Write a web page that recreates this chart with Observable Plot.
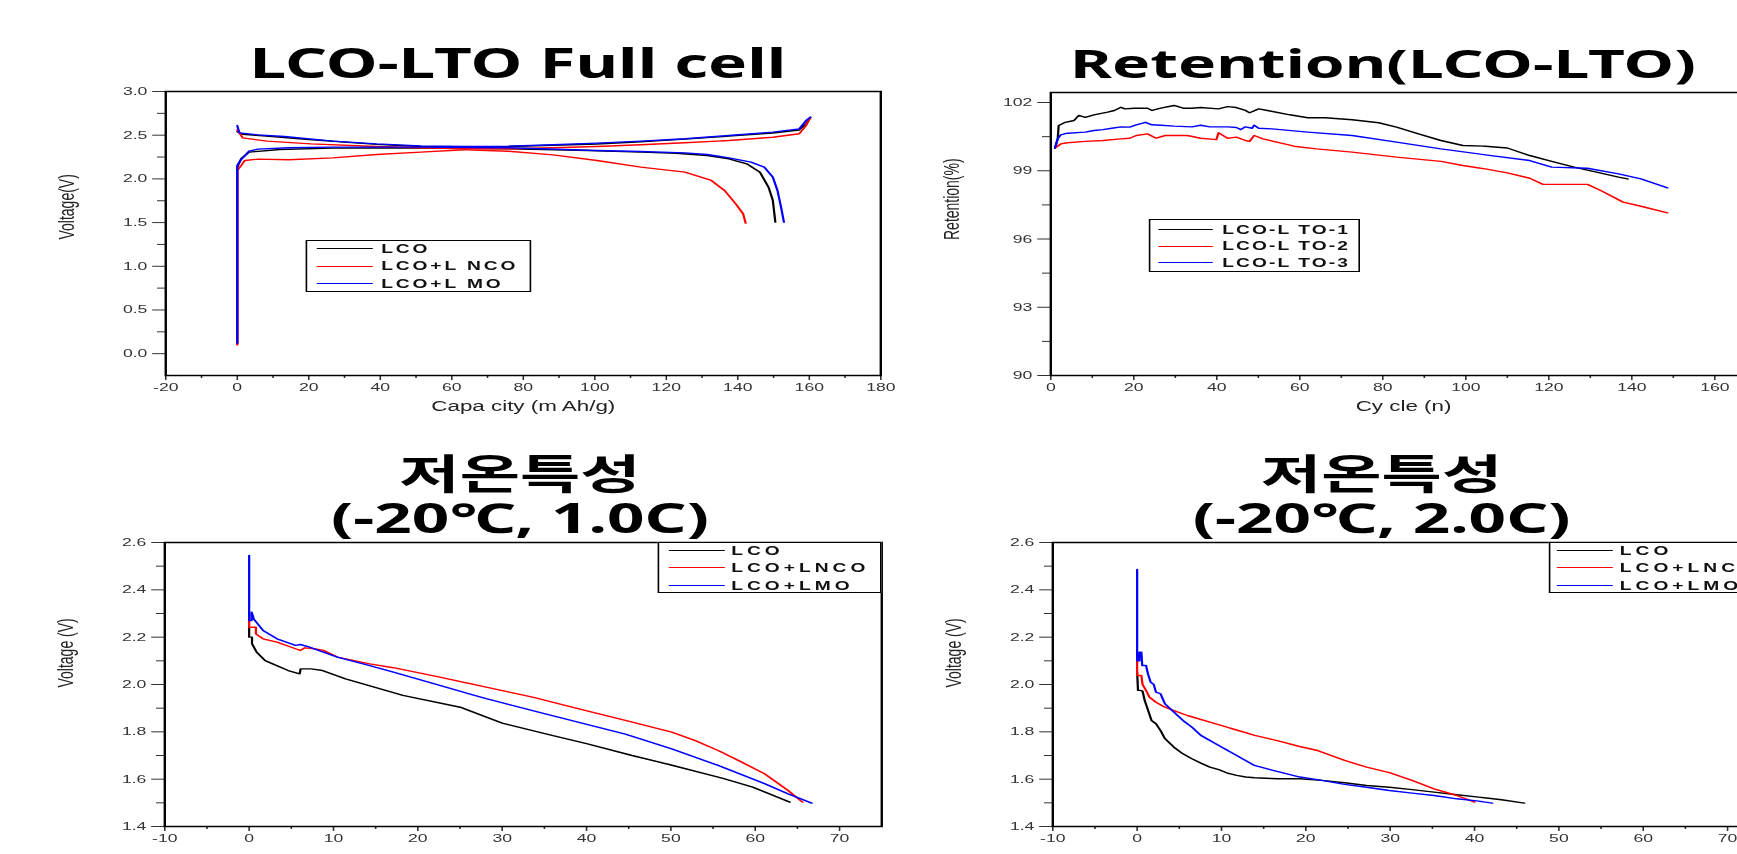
<!DOCTYPE html>
<html><head><meta charset="utf-8">
<script src="https://cdn.jsdelivr.net/npm/d3@7"></script>
<script src="https://cdn.jsdelivr.net/npm/@observablehq/plot@0.6"></script>
<style>
html,body{margin:0;padding:0;background:#fff;}
body{width:1737px;height:854px;overflow:hidden;position:relative;}
#wrap{position:absolute;left:0;top:0;width:1085.625px;height:854px;transform:scaleX(1.6);transform-origin:0 0;}
.title{position:absolute;font-family:"Noto Sans","Noto Sans CJK KR",sans-serif;font-weight:700;font-size:41px;line-height:44px;text-align:center;white-space:pre;color:#000;width:700px;}
.plotbox{position:absolute;}
.legend{position:absolute;box-sizing:border-box;border:1.5px solid #000;background:#fff;}
.sw{position:absolute;height:0;border-top:1.4px solid;}
.lt{position:absolute;font-family:"Liberation Sans",Arial,sans-serif;font-weight:700;font-size:12px;line-height:12px;white-space:pre;color:#111;}
</style></head>
<body><div id="wrap"></div>
<script>
// ---------- DATA ----------
// Panel 1: LCO-LTO Full cell (capacity mAh/g, voltage V)
const fcLcoUp   = [[0,2.54],[1.5,2.51],[8,2.49],[20,2.45],[39,2.395],[51.3,2.37],[63.6,2.365],[75.9,2.37],[88.3,2.385],[100.6,2.40],[112.9,2.425],[125.2,2.455],[137.5,2.49],[149.8,2.525],[157.2,2.56],[159.1,2.63],[160.3,2.70]];
const fcLcoLow  = [[0,0.12],[0,2.134],[1.1,2.23],[3.3,2.306],[11.9,2.336],[26.7,2.352],[51.3,2.356],[75.9,2.344],[98.1,2.325],[112.9,2.306],[122.8,2.294],[131.4,2.268],[137.5,2.23],[142.5,2.172],[146.2,2.077],[148.6,1.905],[149.8,1.753],[150.5,1.505]];
const fcLncoUp  = [[0,2.562],[1.5,2.47],[8.3,2.432],[20.6,2.401],[39,2.371],[51.3,2.356],[63.6,2.344],[75.9,2.344],[88.3,2.356],[100.6,2.371],[112.9,2.39],[125.2,2.413],[137.5,2.439],[149.8,2.477],[157.2,2.516],[159.1,2.611],[160.3,2.706]];
const fcLncoLow = [[0,0.10],[0,2.096],[1.1,2.153],[2.1,2.211],[5.8,2.226],[14.4,2.219],[26.7,2.241],[39,2.279],[51.3,2.306],[63.6,2.333],[75.9,2.317],[88.3,2.275],[100.6,2.211],[112.9,2.134],[125.2,2.077],[132.6,1.982],[136.3,1.867],[139.4,1.715],[141.5,1.6],[142.2,1.494]];
const fcLmoUp   = [[0,2.61],[0.6,2.527],[5.8,2.504],[13.2,2.485],[26.7,2.432],[39,2.401],[51.3,2.378],[63.6,2.371],[75.9,2.375],[88.3,2.39],[100.6,2.409],[112.9,2.432],[125.2,2.459],[137.5,2.497],[149.8,2.535],[157.2,2.573],[159.1,2.668],[160.3,2.706]];
const fcLmoLow  = [[0,0.12],[0,2.153],[0.87,2.211],[3.3,2.317],[5.8,2.34],[14.4,2.356],[26.7,2.363],[51.3,2.363],[75.9,2.356],[100.6,2.325],[112.9,2.314],[125.2,2.298],[131.4,2.279],[137.5,2.241],[143.7,2.191],[147.4,2.134],[149.8,2.02],[151.1,1.867],[152.1,1.677],[152.9,1.505]];
const fcLegend  = ["LCO","LCO+L NCO","LCO+L MO"];

// Panel 2: Retention (cycle, %)
const retLto1 = [[1,100.0],[1.66,100.4],[1.9,100.99],[3.5,101.13],[5.6,101.21],[6.7,101.43],[8.3,101.35],[10.4,101.46],[13.7,101.58],[15.3,101.65],[16.9,101.79],[17.9,101.72],[20.1,101.75],[23.3,101.75],[24.4,101.65],[26.5,101.75],[29.7,101.87],[31.9,101.75],[34.0,101.75],[36.1,101.78],[40.4,101.72],[42.6,101.82],[44.7,101.78],[46.9,101.65],[47.9,101.55],[50.1,101.72],[52.2,101.65],[57.6,101.46],[61.9,101.33],[66.1,101.33],[72.6,101.24],[79.0,101.11],[83.3,100.92],[88.6,100.62],[94.0,100.33],[99.3,100.11],[104.7,100.08],[110.0,100.0],[115.4,99.67],[120.7,99.41],[126.1,99.16],[131.5,98.94],[136.8,98.72],[139.0,98.64]];
const retLto2 = [[1,100.0],[2.4,100.18],[4.0,100.23],[8.3,100.29],[12.6,100.33],[16.9,100.40],[19.0,100.43],[20.6,100.55],[23.3,100.62],[25.4,100.43],[27.6,100.55],[29.7,100.55],[32.9,100.55],[36.1,100.43],[39.9,100.37],[40.4,100.67],[41.5,100.55],[42.6,100.43],[44.7,100.48],[46.9,100.33],[47.9,100.29],[49.0,100.55],[51.1,100.40],[58.6,100.08],[64.0,99.96],[72.6,99.82],[83.3,99.60],[94.0,99.41],[99.3,99.23],[104.7,99.08],[110.0,98.91],[115.4,98.67],[118.6,98.40],[129.3,98.40],[132.5,98.13],[137.9,97.62],[142.2,97.44],[148.6,97.15]];
const retLto3 = [[1,100.0],[1.66,100.4],[2.4,100.58],[4.0,100.65],[8.3,100.70],[10.4,100.77],[12.6,100.81],[14.7,100.87],[16.9,100.93],[19.0,100.92],[20.6,101.02],[22.8,101.13],[24.4,101.02],[26.5,101.0],[29.7,100.96],[34.0,100.93],[36.1,101.0],[38.3,100.93],[42.6,100.93],[44.7,100.90],[45.8,100.81],[46.9,100.93],[48.5,100.87],[49.0,101.0],[50.1,100.87],[53.3,100.84],[61.9,100.70],[72.6,100.55],[83.3,100.26],[94.0,99.96],[104.7,99.70],[115.4,99.45],[120.7,99.16],[129.3,99.11],[136.8,98.86],[142.2,98.64],[148.6,98.25]];
const retLegend = ["LCO-L TO-1","LCO-L TO-2","LCO-L TO-3"];

// Panel 3: -20C, 1.0C (capacity, voltage)
const c10Lco  = [[0,2.242],[0,2.20],[0.34,2.20],[0.34,2.172],[0.88,2.137],[1.9,2.101],[3.27,2.08],[4.63,2.059],[5.99,2.045],[6.1,2.066],[7.35,2.066],[8.71,2.059],[11.43,2.024],[14.83,1.989],[18.23,1.954],[25.03,1.904],[30.0,1.837],[35.9,1.785],[40.0,1.75],[45.4,1.70],[49.9,1.661],[55.6,1.609],[59.7,1.566],[64.1,1.503]];
const c10Lnco = [[0,2.306],[0,2.242],[0.8,2.242],[0.8,2.214],[1.65,2.193],[3.3,2.179],[5.5,2.151],[6.06,2.144],[6.6,2.155],[7.7,2.151],[8.8,2.144],[10.46,2.116],[14.3,2.087],[17.1,2.071],[22.6,2.031],[28.1,1.989],[33.6,1.947],[39.1,1.897],[44.6,1.848],[50.1,1.799],[52.9,1.763],[55.6,1.721],[58.4,1.672],[61.1,1.623],[63.9,1.552],[65.6,1.503]];
const c10Lmo  = [[0,2.545],[0,2.27],[0.3,2.27],[0.3,2.306],[0.55,2.277],[1.65,2.228],[3.3,2.193],[5.5,2.165],[6.06,2.169],[7.16,2.158],[8.8,2.137],[10.46,2.116],[14.3,2.08],[17.1,2.052],[22.6,1.996],[28.1,1.94],[33.6,1.89],[39.1,1.84],[44.6,1.79],[50.1,1.728],[55.6,1.658],[61.1,1.581],[63.9,1.538],[66.7,1.499]];

// Panel 4: -20C, 2.0C (capacity, voltage)
const c20Lco  = [[0,2.052],[0.1,1.975],[0.37,1.975],[0.64,1.972],[0.9,1.932],[1.17,1.904],[1.44,1.876],[1.7,1.848],[2.23,1.834],[2.77,1.806],[3.3,1.771],[4.36,1.735],[5.43,1.707],[6.49,1.686],[7.55,1.668],[8.62,1.651],[9.68,1.64],[10.74,1.625],[11.8,1.616],[12.87,1.609],[13.94,1.606],[16.6,1.602],[19.26,1.602],[21.9,1.595],[24.6,1.585],[27.2,1.573],[29.9,1.566],[32.6,1.556],[35.2,1.545],[37.9,1.534],[40.5,1.524],[43.2,1.513],[45.9,1.499]];
const c20Lnco = [[0,2.137],[0,2.038],[0.5,2.038],[0.64,2.0],[1.06,1.975],[1.44,1.947],[2.23,1.925],[3.3,1.904],[4.36,1.89],[5.96,1.869],[8.62,1.841],[11.28,1.813],[13.94,1.785],[16.6,1.763],[19.26,1.738],[21.4,1.721],[24.6,1.679],[27.2,1.651],[29.9,1.628],[32.6,1.595],[35.2,1.559],[37.9,1.531],[40.0,1.503]];
const c20Lmo  = [[0,2.486],[0,2.10],[0.27,2.10],[0.27,2.137],[0.5,2.137],[0.6,2.08],[1.06,2.08],[1.28,2.045],[1.6,2.01],[1.97,2.0],[2.23,1.968],[2.77,1.961],[3.3,1.918],[4.36,1.883],[5.43,1.848],[6.49,1.82],[7.55,1.785],[9.68,1.742],[11.8,1.70],[13.9,1.658],[16.1,1.637],[19.3,1.609],[21.9,1.595],[24.6,1.578],[27.2,1.566],[29.9,1.552],[32.6,1.541],[35.2,1.531],[37.9,1.517],[40.5,1.507],[42.1,1.499]];
const lowLegend = ["LCO","LCO+LNCO","LCO+LMO"];

// tick values
const fcXTicks = [-20,0,20,40,60,80,100,120,140,160,180];
const fcXMinor = [-10,10,30,50,70,90,110,130,150,170];
const fcYTicks = [0,0.5,1,1.5,2,2.5,3];
const fcYMinor = [0.25,0.75,1.25,1.75,2.25,2.75];
const retXTicks = [0,20,40,60,80,100,120,140,160];
const retXMinor = [10,30,50,70,90,110,130,150,170];
const retYTicks = [90,93,96,99,102];
const retYMinor = [91.5,94.5,97.5,100.5];
const lowXTicks = [-10,0,10,20,30,40,50,60,70];
const lowXMinor = [-5,5,15,25,35,45,55,65];
const lowYTicks = [1.4,1.6,1.8,2.0,2.2,2.4,2.6];
const lowYMinor = [1.5,1.7,1.9,2.1,2.3,2.5];

const colors = ["#000000","#ff0000","#0000ff"];

// ---------- DRAW ----------
const wrap = document.getElementById("wrap");

function makePlot(c) {
  const marks = [
    Plot.axisX({ticks: c.xTicks, tickSize: 5, tickPadding: 3, tickFormat: d => String(d), label: null}),
    Plot.axisX({ticks: c.xMinor, tickSize: 3, tickFormat: () => "", label: null}),
    Plot.axisY({ticks: c.yTicks, tickSize: 8, tickPadding: 3.5, tickFormat: c.yFormat, label: null}),
    Plot.axisY({ticks: c.yMinor, tickSize: 5, tickFormat: () => "", label: null})
  ];
  c.series.forEach(s => marks.push(Plot.line(s.data, {x: d => d[0], y: d => d[1], stroke: s.color, strokeWidth: 1.4})));
  marks.push(Plot.frame({stroke: "#000", strokeWidth: 1.5}));
  marks.push(Plot.text([c.yLabel], {text: d => d, frameAnchor: "left", dx: -62, dy: c.yLabelDy, rotate: -90, fontSize: 14, fill: "#222"}));
  if (c.xLabel) marks.push(Plot.text([c.xLabel], {text: d => d, frameAnchor: "bottom", dy: 35, fontSize: 14, fill: "#222"}));
  const svg = Plot.plot({
    width: c.width, height: c.height,
    marginLeft: c.mL, marginRight: c.mR, marginTop: c.mT, marginBottom: c.mB,
    x: {domain: c.xDomain}, y: {domain: c.yDomain},
    style: {background: "transparent", overflow: "visible", maxWidth: "none", fontFamily: "'Liberation Sans', Arial, sans-serif", fontSize: "11px", color: "#333"},
    marks
  });
  const box = document.createElement("div");
  box.className = "plotbox";
  box.style.left = c.left + "px"; box.style.top = c.top + "px";
  box.appendChild(svg);
  wrap.appendChild(box);
}

function addTitle(text, cx, top, size) {
  const d = document.createElement("div");
  d.className = "title";
  d.style.left = (cx - 350) + "px"; d.style.top = top + "px";
  if (size) d.style.fontSize = size + "px";
  d.textContent = text;
  wrap.appendChild(d);
}

function addLegend(L) {
  const b = document.createElement("div");
  b.className = "legend";
  Object.assign(b.style, {left: L.left + "px", top: L.top + "px", width: L.w + "px", height: L.h + "px"});
  L.labels.forEach((lab, i) => {
    const sw = document.createElement("div");
    sw.className = "sw";
    Object.assign(sw.style, {left: L.swX + "px", width: L.swW + "px", top: (L.rows[i] - 0.7) + "px", borderTopColor: colors[i]});
    b.appendChild(sw);
    const t = document.createElement("div");
    t.className = "lt";
    Object.assign(t.style, {left: L.txX + "px", top: (L.rows[i] - 6) + "px", letterSpacing: L.ls + "px"});
    t.textContent = lab;
    b.appendChild(t);
  });
  wrap.appendChild(b);
}

const f1 = d3.format(".1f");

// Panel 1
makePlot({left: 0, top: 0, width: 570, height: 430, mL: 103.1, mR: 20, mT: 91, mB: 55,
  xDomain: [-20, 180], yDomain: [-0.25, 3.0], xTicks: fcXTicks, xMinor: fcXMinor, yTicks: fcYTicks, yMinor: fcYMinor, yFormat: f1,
  yLabel: "Voltage(V)", yLabelDy: 6, xLabel: "Capa city (m Ah/g)",
  series: [
    {data: fcLcoUp, color: colors[0]}, {data: fcLcoLow, color: colors[0]},
    {data: fcLncoUp, color: colors[1]}, {data: fcLncoLow, color: colors[1]},
    {data: fcLmoUp, color: colors[2]}, {data: fcLmoLow, color: colors[2]}
  ]});
// Panel 2
makePlot({left: 560, top: 0, width: 560, height: 430, mL: 96.25, mR: 22.8, mT: 92, mB: 55,
  xDomain: [0, 170], yDomain: [90, 102.44], xTicks: retXTicks, xMinor: retXMinor, yTicks: retYTicks, yMinor: retYMinor, yFormat: d => String(d),
  yLabel: "Retention(%)", yLabelDy: 6, xLabel: "Cy cle (n)",
  series: [{data: retLto1, color: colors[0]}, {data: retLto2, color: colors[1]}, {data: retLto3, color: colors[2]}]});
// Panel 3
makePlot({left: 0, top: 430, width: 570, height: 424, mL: 102.5, mR: 19.4, mT: 112, mB: 28,
  xDomain: [-10, 75], yDomain: [1.4, 2.6], xTicks: lowXTicks, xMinor: lowXMinor, yTicks: lowYTicks, yMinor: lowYMinor, yFormat: f1,
  yLabel: "Voltage (V)", yLabelDy: 3, xLabel: null,
  series: [{data: c10Lco, color: colors[0]}, {data: c10Lnco, color: colors[1]}, {data: c10Lmo, color: colors[2]}]});
// Panel 4
makePlot({left: 560, top: 430, width: 570, height: 424, mL: 97.5, mR: 24.4, mT: 112, mB: 28,
  xDomain: [-10, 75], yDomain: [1.4, 2.6], xTicks: lowXTicks, xMinor: lowXMinor, yTicks: lowYTicks, yMinor: lowYMinor, yFormat: f1,
  yLabel: "Voltage (V)", yLabelDy: 3, xLabel: null,
  series: [{data: c20Lco, color: colors[0]}, {data: c20Lnco, color: colors[1]}, {data: c20Lmo, color: colors[2]}]});

// Titles
addTitle("LCO-LTO Full cell", 323.75, 40);
addTitle("Retention(LCO-LTO)", 864.4, 40.5, 40);
addTitle("저온특성\n(-20℃, 1.0C)", 325, 451);
addTitle("저온특성\n(-20℃, 2.0C)", 863.5, 451);

// Legends
addLegend({left: 191.25, top: 240, w: 140.6, h: 52, swX: 5.4, swW: 35, txX: 46, rows: [7.8, 25.2, 42.8], ls: 1.8, labels: fcLegend});
addLegend({left: 717.5, top: 219, w: 132.5, h: 53, swX: 5.4, swW: 33.75, txX: 45.4, rows: [9.5, 26.2, 42.5], ls: 1.3, labels: retLegend});
addLegend({left: 411.25, top: 542, w: 139.4, h: 51, swX: 5.4, swW: 35, txX: 44.8, rows: [7.5, 24.8, 42.5], ls: 2.5, labels: lowLegend});
addLegend({left: 967.5, top: 542, w: 138.75, h: 51, swX: 4.8, swW: 35, txX: 43.9, rows: [7.5, 24.8, 42.5], ls: 2.5, labels: lowLegend});
</script></body></html>
